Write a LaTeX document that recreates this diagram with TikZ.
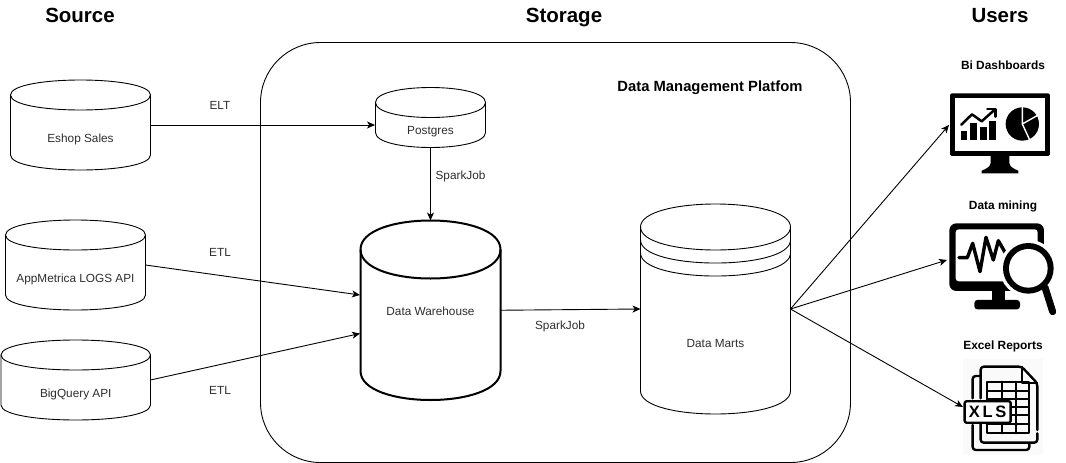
\documentclass[tikz,border=0pt]{standalone}
\usepackage{fontspec}
\setmainfont{Liberation Sans}
\usetikzlibrary{arrows.meta}
\tikzset{
  edgeline/.style={draw=black,line width=0.9pt,-{Stealth[length=8pt,width=7pt,inset=2.2pt]}},
  label/.style={font=\fontsize{11.8}{14}\selectfont,text=black!82,inner sep=0pt,anchor=base},
  head/.style={font=\bfseries\fontsize{20.5}{24}\selectfont,inner sep=0pt,anchor=base},
  subhead/.style={font=\bfseries\fontsize{11.9}{14}\selectfont,inner sep=0pt,anchor=base},
  ghost/.style={inner sep=0pt,outer sep=0pt},
  cylline/.style={draw=black,fill=white,line width=0.9pt},
  icon/.style={line join=round,line cap=round}
}
% #1 name #2 x1 #3 y1 #4 x2 #5 y2 #6 dy #7 line width #8 text #9 text baseline y
\newcommand{\cylshape}[9]{%
  \pgfmathsetmacro{\cw}{#4-#2}\pgfmathsetmacro{\ch}{#5-#3}%
  \pgfmathsetmacro{\cx}{(#2+#4)/2}\pgfmathsetmacro{\cy}{(#3+#5)/2}%
  \pgfmathsetmacro{\sa}{#3+#6}\pgfmathsetmacro{\sb}{#5-#6}%
  \pgfmathsetmacro{\ca}{#3-#6/3}\pgfmathsetmacro{\cb}{#5+#6/3}%
  \pgfmathsetmacro{\cc}{#3+#6+4*#6/3}%
  \draw[cylline,line width=#7] (#2,\sa) .. controls (#2,\ca) and (#4,\ca) .. (#4,\sa)
     -- (#4,\sb) .. controls (#4,\cb) and (#2,\cb) .. (#2,\sb) -- cycle;
  \draw[cylline,fill=none,line width=#7] (#2,\sa) .. controls (#2,\cc) and (#4,\cc) .. (#4,\sa);
  \node[ghost,minimum width=\cw pt,minimum height=\ch pt] (#1) at (\cx,\cy) {};
  \node[label] (#1-text) at (\cx,#9) {#8};
}
\begin{document}
\begin{tikzpicture}[x=1pt,y=-1pt]
\useasboundingbox (0,0) rectangle (1066,463);
\fill[white] (0,0) rectangle (1066,463);

% headings
\node[head] (hsource) at (80,23) {Source};
\node[head] (hstorage) at (564,23) {Storage};
\node[head] (husers) at (1000,23) {Users};

% platform
\node[draw=black,line width=0.9pt,rounded corners=60pt,minimum width=590pt,minimum height=420pt,ghost] (platform) at (555.5,252.5) {};
\node[font=\bfseries\fontsize{14.8}{16}\selectfont,inner sep=0pt,anchor=base] (ptitle) at (710,91) {Data Management Platfom};

% cylinders
\cylshape{eshop}{10.5}{80}{150.5}{170}{15}{0.9pt}{Eshop Sales}{142}
\cylshape{app}{5.5}{220}{145.5}{310}{15}{0.9pt}{AppMetrica LOGS API}{282}
\cylshape{bq}{1}{340}{150.5}{420}{15}{0.9pt}{BigQuery API}{397}
\cylshape{pg}{375.5}{87.5}{485.5}{147.5}{15}{0.9pt}{Postgres}{134}
\cylshape{wh}{360.5}{220.5}{500.5}{400}{29}{2pt}{Data Warehouse}{315}
\cylshape{dm}{640.5}{204}{790.5}{414}{23}{0.9pt}{Data Marts}{347}
\draw[cylline,fill=none] (640.5,240) .. controls (640.5,270.7) and (790.5,270.7) .. (790.5,240);
\draw[cylline,fill=none] (640.5,253) .. controls (640.5,283.7) and (790.5,283.7) .. (790.5,253);

% targets
\coordinate (pgIn) at (375,125);
\coordinate (whA) at (360,295);
\coordinate (whB) at (360,333.5);
\coordinate (dashT) at (949,125);
\coordinate (mineT) at (947,260);
\coordinate (xlsT) at (963,407);

% connectors
\draw[edgeline] (eshop.east) -- (pgIn);
\draw[edgeline] (app.east) -- (whA);
\draw[edgeline] (bq.east) -- (whB);
\draw[edgeline] (pg.south) -- (wh.north);
\draw[edgeline] (wh.east) -- (dm.west);
\draw[edgeline] (dm.east) -- (dashT);
\draw[edgeline] (dm.east) -- (mineT);
\draw[edgeline] (dm.east) -- (xlsT);

% connector labels
\node[label] (l1) at (220,109.5) {ELT};
\node[label] (l2) at (220,256.5) {ETL};
\node[label] (l3) at (220,394.5) {ETL};
\node[label] (l4) at (460.5,179) {SparkJob};
\node[label] (l5) at (560,329) {SparkJob};

% user headings
\node[subhead] (u1) at (1003,69) {Bi Dashboards};
\node[subhead] (u2) at (1003,209) {Data mining};
\node[subhead] (u3) at (1003,349) {Excel Reports};

% dashboard icon
\begin{scope}[shift={(930,80)},x=0.3333pt,y=-0.3333pt,icon]
  \fill[black,rounded corners=1.5pt] (60,40) rectangle (360,228);
  \fill[white] (75,55) rectangle (345,212);
  \fill[black] (182,228) -- (238,228) -- (238,250) .. controls (240,262) and (255,268) .. (265,272) -- (265,280) -- (155,280) -- (155,272) .. controls (165,268) and (180,262) .. (182,250) -- cycle;
  \fill[black] (92,152) rectangle (112,180);
  \fill[black] (119,130) rectangle (141,180);
  \fill[black] (149,142) rectangle (170,180);
  \fill[black] (178,122) rectangle (198,180);
  \draw[black,line width=2.5pt] (94,134) -- (126,103) -- (155,124) -- (193,90);
  \draw[black,line width=2.5pt] (172,87) -- (196,87) -- (196,110);
  \fill[black] (277,132) circle (50);
  \draw[white,line width=1.4pt] (277,80) -- (277,132) -- (330,102);
  \draw[white,line width=1.4pt] (277,132) -- (302,186);
\end{scope}

% data mining icon
\begin{scope}[shift={(930,210)},x=0.3333pt,y=-0.3333pt,icon]
  \fill[black,rounded corners=7pt] (58,40) rectangle (342,243);
  \fill[white,rounded corners=3pt] (77,58) rectangle (323,214);
  \fill[black] (185,243) rectangle (225,272);
  \fill[black,rounded corners=3pt] (133,270) rectangle (270,298);
  \draw[black,line width=3.4pt] (87,143) -- (112,143) -- (128,100) -- (150,185) -- (168,82) -- (190,150) -- (205,92) -- (228,132);
  \fill[white] (295,175) circle (86);
  \draw[black,line width=7pt] (345,232) -- (368,305);
  \fill[black] (295,175) circle (76);
  \fill[white] (295,175) circle (58);
\end{scope}

% excel icon
\begin{scope}[shift={(930,350)},x=0.3333pt,y=-0.3333pt,icon]
  \fill[black!2] (100,28) rectangle (340,315);
  \draw[black,line width=2.4pt,rounded corners=3pt] (128,145) -- (128,78) -- (150,78);
  \draw[black,line width=2.4pt,rounded corners=3pt] (128,225) -- (128,300) -- (298,300) -- (298,280);
  \draw[black,line width=2.4pt,rounded corners=3pt] (152,145) -- (152,50) -- (275,50) -- (322,100) -- (322,240);
  \draw[black,line width=2.4pt,rounded corners=3pt] (322,250) -- (322,278) -- (152,278) -- (152,222);
  \draw[black,line width=1.8pt] (275,50) -- (275,100) -- (322,100);
  \draw[black,line width=2.2pt] (172,95) rectangle (298,250);
  \foreach \yy in {122,146,170,195,222}{\draw[black,line width=1.7pt] (172,\yy) -- (298,\yy);}
  \draw[black,line width=2pt] (215,95) -- (215,250);
  \draw[black,line width=2pt] (258,95) -- (258,250);
  \node[draw=black,fill=white,line width=2.4pt,rounded corners=2pt,minimum width=46pt,minimum height=21.5pt,inner sep=0pt,font=\bfseries\fontsize{16.5}{18}\selectfont] (xlstag) at (173,186) {X\,L\,S};
\end{scope}
\end{tikzpicture}
\end{document}
